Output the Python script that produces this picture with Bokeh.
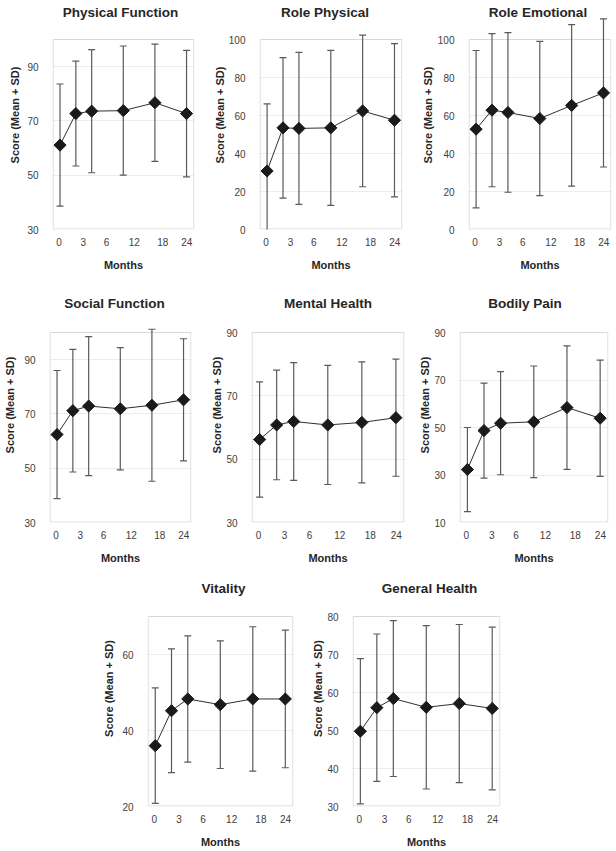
import numpy as np
from bokeh.plotting import figure
from bokeh.layouts import column, row
from bokeh.models import Range1d, FixedTicker, Spacer
from bokeh.core.properties import value
from bokeh.embed import file_html
from bokeh.resources import INLINE

# ---------------- data ----------------
months = [0, 3, 6, 12, 18, 24]
tick_labels = ["0", "3", "6", "12", "18", "24"]
tick_positions = [-0.2, 4.4, 8.8, 14.1, 19.5, 24.05]

titles = ["Physical Function", "Role Physical", "Role Emotional",
          "Social Function", "Mental Health", "Bodily Pain",
          "Vitality", "General Health"]

pf_mean = [61.1, 72.7, 73.6, 73.8, 76.7, 72.7]
pf_sd = [22.5, 19.3, 22.7, 23.8, 21.6, 23.3]
rp_mean = [30.8, 53.5, 53.2, 53.5, 62.4, 57.5]
rp_sd = [35.3, 37.0, 40.0, 40.8, 39.9, 40.3]
re_mean = [52.8, 62.8, 61.6, 58.4, 65.3, 71.9]
re_sd = [41.4, 40.3, 42.0, 40.6, 42.5, 39.0]
sf_mean = [62.4, 71.2, 72.9, 71.9, 73.2, 75.2]
sf_sd = [23.6, 22.6, 25.6, 22.5, 28.0, 22.5]
mh_mean = [56.2, 60.8, 61.9, 60.8, 61.6, 63.1]
mh_sd = [18.2, 17.3, 18.6, 18.8, 19.1, 18.5]
bp_mean = [32.3, 48.7, 51.8, 52.4, 58.4, 53.9]
bp_sd = [17.7, 20.0, 21.7, 23.5, 26.0, 24.5]
vt_mean = [36.0, 45.2, 48.3, 46.8, 48.3, 48.3]
vt_sd = [15.2, 16.3, 16.6, 16.8, 19.0, 18.1]
gh_mean = [49.8, 56.0, 58.4, 56.1, 57.1, 55.8]
gh_sd = [19.1, 19.4, 20.5, 21.5, 20.8, 21.4]

pf_ylim, pf_yticks = (30, 100), [30, 50, 70, 90]
rp_ylim, rp_yticks = (0, 100), [0, 20, 40, 60, 80, 100]
re_ylim, re_yticks = (0, 100), [0, 20, 40, 60, 80, 100]
sf_ylim, sf_yticks = (30, 100), [30, 50, 70, 90]
mh_ylim, mh_yticks = (30, 90), [30, 50, 70, 90]
bp_ylim, bp_yticks = (10, 90), [10, 30, 50, 70, 90]
vt_ylim, vt_yticks = (20, 70), [20, 40, 60]
gh_ylim, gh_yticks = (30, 80), [30, 40, 50, 60, 70, 80]

# ---------------- style ----------------
FONT = "Liberation Sans"
X_LO, X_HI = -1.43, 25.51
HB = 190
ROW_H = [287, 283, 281]
BOX_TOP = [39, 45, 46]
TITLE_Y = [12, 16, 18]


def make_panel(title, means, sds, ylim, yticks, r, fig_w, left, right,
               ylab_so, title_dx):
    fig_h = ROW_H[r]
    box_top = BOX_TOP[r]
    ymin, ymax = ylim
    u = (ymax - ymin) / HB
    bottom_border = fig_h - box_top - HB
    p = figure(width=fig_w, height=fig_h, output_backend="svg",
               toolbar_location=None,
               x_range=Range1d(X_LO, X_HI),
               y_range=Range1d(ymin, ymax + box_top * u),
               min_border_left=left, min_border_right=right,
               min_border_top=0, min_border_bottom=bottom_border)
    p.outline_line_color = None
    p.background_fill_color = "white"
    p.border_fill_color = "white"

    frame_w = fig_w - left - right
    dpx = (X_HI - X_LO) / frame_w

    # title drawn as text in the top of the frame
    p.text(x=[(X_LO + X_HI) / 2 + title_dx * dpx],
           y=[ymax + (box_top - TITLE_Y[r]) * u], text=[title],
           text_font=value(FONT), text_font_size="13.5px",
           text_font_style="bold", text_color="#262626",
           text_align="center", text_baseline="middle")

    # plot area box
    p.quad(left=[X_LO + 0.6 * dpx], right=[X_HI - 0.6 * dpx],
           bottom=[ymin + 0.5 * u], top=[ymax], fill_color=None,
           line_color="#d9d9d9", line_width=1)

    means_a = np.array(means)
    sds_a = np.array(sds)
    lower = means_a - sds_a
    upper = means_a + sds_a
    p.segment(x0=months, y0=lower, x1=months, y1=upper,
              line_color="#5a5a5a", line_width=1.2)
    p.scatter(x=months, y=lower, marker="dash", size=7,
              line_color="#5a5a5a", line_width=1.2)
    p.scatter(x=months, y=upper, marker="dash", size=7,
              line_color="#5a5a5a", line_width=1.2)
    p.line(x=months, y=means, line_color="#303030", line_width=1)
    p.scatter(x=months, y=means, marker="square", angle=np.pi / 4,
              size=8.6, fill_color="#1a1a1a", line_color="#1a1a1a")

    # axes
    p.xaxis.ticker = FixedTicker(ticks=tick_positions)
    p.xaxis.major_label_overrides = {t: l for t, l in zip(tick_positions, tick_labels)}
    p.yaxis.ticker = FixedTicker(ticks=yticks)
    for ax in (p.xaxis[0], p.yaxis[0]):
        ax.axis_line_color = None
        ax.major_tick_line_color = None
        ax.minor_tick_line_color = None
        ax.major_label_text_font = FONT
        ax.major_label_text_font_size = "10px"
        ax.major_label_text_color = "#404040"
        ax.axis_label_text_font = FONT
        ax.axis_label_text_font_size = "11px"
        ax.axis_label_text_font_style = "bold"
        ax.axis_label_text_color = "#262626"
    p.xaxis.axis_label = "Months"
    p.xaxis.major_label_standoff = 2
    p.xaxis.axis_label_standoff = 10
    p.yaxis.axis_label = "Score (Mean + SD)"
    p.yaxis.major_label_standoff = 8
    p.yaxis.axis_label_standoff = ylab_so

    p.xgrid.grid_line_color = None
    p.ygrid.ticker = FixedTicker(ticks=yticks)
    p.ygrid.grid_line_color = "#ececec"
    p.ygrid.grid_line_width = 1
    return p


p1 = make_panel(titles[0], pf_mean, pf_sd, pf_ylim, pf_yticks, 0, 205, 52, 11, 3, -3)
p2 = make_panel(titles[1], rp_mean, rp_sd, rp_ylim, rp_yticks, 0, 205, 54, 8, 0, -6)
p3 = make_panel(titles[2], re_mean, re_sd, re_ylim, re_yticks, 0, 206, 58, 5, 1, -2)
p4 = make_panel(titles[3], sf_mean, sf_sd, sf_ylim, sf_yticks, 1, 205, 49, 14, 5, -6)
p5 = make_panel(titles[4], mh_mean, mh_sd, mh_ylim, mh_yticks, 1, 205, 46, 6, 0, 0)
p6 = make_panel(titles[5], bp_mean, bp_sd, bp_ylim, bp_yticks, 1, 206, 49, 8, 0, -9)
p7 = make_panel(titles[6], vt_mean, vt_sd, vt_ylim, vt_yticks, 2, 205, 43, 12, 4, 3)
p8 = make_panel(titles[7], gh_mean, gh_sd, gh_ylim, gh_yticks, 2, 205, 47, 10, 0, 3)

layout = column(
    row(p1, p2, p3, spacing=0),
    row(p4, p5, p6, spacing=0),
    row(Spacer(width=100, height=ROW_H[2]), p7, p8, spacing=0),
    spacing=0,
)

open("out.html", "w").write(file_html(layout, INLINE))
